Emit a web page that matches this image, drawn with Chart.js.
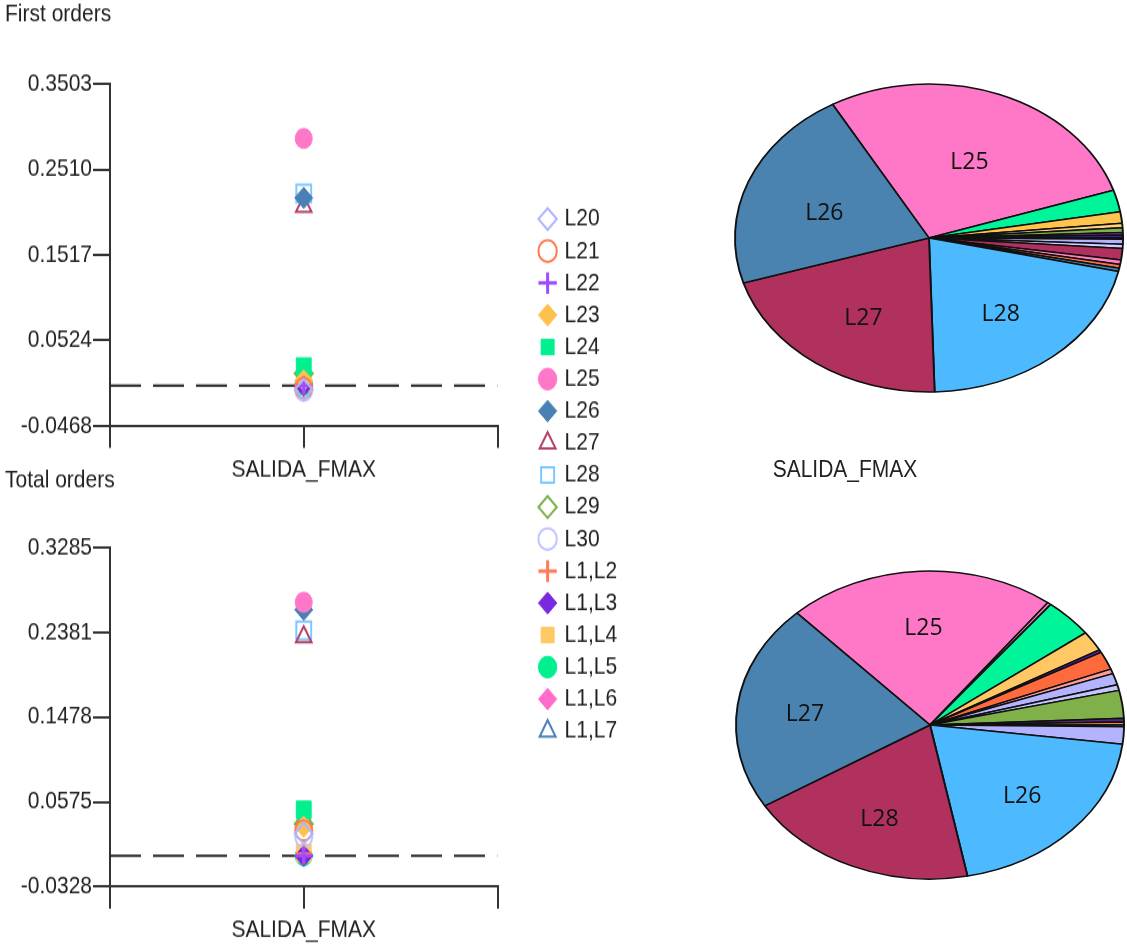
<!DOCTYPE html>
<html>
<head>
<meta charset="utf-8">
<title>SALIDA_FMAX sensitivity</title>
<script src="https://cdn.jsdelivr.net/npm/chart.js@4.4.1/dist/chart.umd.min.js"></script>
<style>
  html, body { margin: 0; padding: 0; background: #fff; }
  body { width: 1127px; height: 949px; position: relative; overflow: hidden; }
  /* the left half of the original figure is stretched vertically */
  #left { position: absolute; left: 0; top: 0; width: 720px; height: 810px; transform: scaleY(1.18); transform-origin: 0 0; }
  canvas { position: absolute; }
  .note { position: absolute; font: 21px "Liberation Sans", Arial, sans-serif; color: #222; line-height: 25px; white-space: nowrap; text-align: center; }
</style>
</head>
<body>
<div id="left">
  <canvas id="first" width="505" height="420" style="left:5px; top:0px"></canvas>
  <canvas id="total" width="505" height="420" style="left:5px; top:395px"></canvas>
  <canvas id="legend" width="240" height="500" style="left:535px; top:169px"></canvas>
  <div class="note" style="left:745px; top:384px; width:200px">SALIDA_FMAX</div>
</div>
<canvas id="pieFirst" width="420" height="330" style="left:719px; top:73px"></canvas>
<canvas id="pieTotal" width="420" height="330" style="left:720px; top:560px"></canvas>

<script>
const xCategory = 'SALIDA_FMAX';

const seriesNames = ['L20', 'L21', 'L22', 'L23', 'L24', 'L25', 'L26', 'L27', 'L28', 'L29', 'L30',
  'L1,L2', 'L1,L3', 'L1,L4', 'L1,L5', 'L1,L6', 'L1,L7'];

// first order / total order indices, one value per series
const firstOrders = [-0.005, -0.003, 0.0, 0.006, 0.022, 0.287, 0.218, 0.208, 0.223, 0.014, -0.006,
  0.001, 0.0, 0.004, 0.0, 0.002, 0.010];
const totalOrders = [0.024, 0.027, 0.0, 0.031, 0.049, 0.270, 0.262, 0.233, 0.240, 0.034, 0.020,
  0.002, 0.0, 0.003, 0.0, 0.001, 0.040];

const yTicksFirst = [-0.0468, 0.0524, 0.1517, 0.2510, 0.3503];
const yTicksTotal = [-0.0328, 0.0575, 0.1478, 0.2381, 0.3285];

// pie shares (percent), clockwise from the start angle
const pieFirstLabels = ['L25', 'L24', 'L23', 'L1,L4', 'L29', 'L22', 'L1,L3', 'L1,L2', 'L20', 'L30',
  'L1,L5', 'L1,L6', 'L21', 'L1,L7', 'L28', 'L27', 'L26'];
const pieFirstValues = [28.2, 2.3, 1.2, 0.45, 0.5, 0.25, 0.25, 0.2, 0.5, 0.45,
  1.2, 0.45, 0.4, 0.35, 21.0, 20.7, 21.4];

const pieTotalLabels = ['L25', 'L1,L6', 'L24', 'L23', 'L1,L3', 'L21', 'L1,L2', 'L20', 'L30', 'L29',
  'L22', 'L1,L4', 'L1,L5', 'L1,L7', 'L26', 'L28', 'L27'];
const pieTotalValues = [22.4, 0.3, 4.1, 2.1, 0.3, 1.9, 0.5, 1.2, 0.6, 2.9,
  0.4, 0.3, 0.2, 1.8, 19.9, 19.3, 21.75];

const pieNamed = ['L25', 'L26', 'L27', 'L28'];

// styles
const markerShapes = ['rectRot', 'circle', 'cross', 'rectRot', 'rect', 'circle', 'rectRot', 'triangle', 'rect',
  'rectRot', 'circle', 'cross', 'rectRot', 'rect', 'circle', 'rectRot', 'triangle'];
const markerColors = ['#b0b4ff', '#ff7a50', '#9b4dff', '#ffc14d', '#00f090', '#ff77c8', '#4a80b4', '#b4406a', '#7cc8ff',
  '#7fb04a', '#c0c4ff', '#ff7a5a', '#7a28e0', '#ffc864', '#00f090', '#ff6ccc', '#4a80b4'];
const markerFilled = [false, false, false, true, true, true, true, false, false,
  false, false, false, true, true, true, true, false];
const shapeRadius = { circle: 8.5, rect: 10.5, rectRot: 9, triangle: 9, cross: 8 };

const pieFirstColors = ['#ff78c8', '#00f59a', '#ffc44d', '#ffd27a', '#7fb04a', '#8a3ffc', '#5a1fb0', '#ff6a3d', '#b3b3ff', '#cfd0ff',
  '#b0305e', '#ff80c0', '#ff7043', '#4682b4', '#4dbaff', '#b0305e', '#4a82b0'];
const pieTotalColors = ['#ff78c8', '#ff80c8', '#00f59a', '#ffc864', '#5a1fb0', '#ff6a3d', '#ff9a9a', '#b3b3ff', '#c4c4ff', '#7fb04a',
  '#4b2a80', '#ff8040', '#00c080', '#b3b3ff', '#4dbaff', '#b0305e', '#4a82b0'];

const pieAspect = 1.26;
const pieRadius = 154;

Chart.defaults.font.family = '"Liberation Sans", Arial, sans-serif';
Chart.defaults.color = '#222';

const axisColor = '#333';
const textFont = { size: 21 };

function markerDataset(name, i, data) {
  const color = markerColors[i];
  const filled = markerFilled[i];
  return {
    label: name,
    data,
    pointStyle: markerShapes[i],
    pointRadius: shapeRadius[markerShapes[i]],
    backgroundColor: filled ? color : 'rgba(0,0,0,0)',
    borderColor: color,
    borderWidth: markerShapes[i] === 'cross' ? 3 : (filled ? 1 : 2),
  };
}

function makeScatter(id, title, values, yTicks, geo) {
  const datasets = seriesNames.map((name, i) => markerDataset(name, i, [{ x: 1, y: values[i] }]));
  datasets.push({
    type: 'line',
    label: 'zero',
    data: [{ x: 0, y: 0 }, { x: 2, y: 0 }],
    borderColor: '#222',
    borderWidth: 2,
    borderDash: [31, 12],
    pointRadius: 0,
    order: 1,
  });

  return new Chart(document.getElementById(id), {
    type: 'scatter',
    data: { datasets },
    options: {
      responsive: false,
      animation: false,
      events: [],
      layout: { padding: { top: 0, right: 3, bottom: 0, left: 0 } },
      plugins: {
        legend: { display: false },
        tooltip: { enabled: false },
        title: {
          display: true,
          text: title,
          align: 'start',
          font: { size: 21, weight: 'normal' },
          color: '#222',
          padding: { top: 0, bottom: geo.titleGap },
        },
      },
      scales: {
        x: {
          type: 'linear',
          min: 0,
          max: 2,
          afterBuildTicks: (scale) => { scale.ticks = [0, 1, 2].map((v) => ({ value: v })); },
          afterFit: (scale) => { scale.height = geo.xAxisHeight; },
          ticks: {
            callback: (v) => (v === 1 ? xCategory : ''),
            autoSkip: false,
            maxRotation: 0,
            padding: 5.8,
            font: textFont,
            color: '#222',
          },
          grid: { drawOnChartArea: false, tickLength: 18.6, color: axisColor, lineWidth: 2 },
          border: { color: axisColor, width: 2 },
        },
        y: {
          min: yTicks[0],
          max: yTicks[yTicks.length - 1],
          afterBuildTicks: (scale) => { scale.ticks = yTicks.map((v) => ({ value: v })); },
          afterFit: (scale) => { scale.width = 105; },
          ticks: {
            callback: (v) => Number(v).toFixed(4),
            padding: 1,
            font: textFont,
            color: '#222',
          },
          grid: { drawOnChartArea: false, tickLength: 17, color: axisColor, lineWidth: 2 },
          border: { color: axisColor, width: 2 },
        },
      },
    },
  });
}

makeScatter('first', 'First orders', firstOrders, yTicksFirst, { titleGap: 46, xAxisHeight: 59.2 });
makeScatter('total', 'Total orders', totalOrders, yTicksTotal, { titleGap: 43.6, xAxisHeight: 63.6 });

// shared legend for both scatter plots
new Chart(document.getElementById('legend'), {
  type: 'scatter',
  data: { datasets: seriesNames.map((name, i) => markerDataset(name, i, [])) },
  options: {
    responsive: false,
    animation: false,
    events: [],
    scales: { x: { display: false }, y: { display: false } },
    plugins: {
      tooltip: { enabled: false },
      legend: {
        position: 'left',
        align: 'start',
        labels: {
          usePointStyle: true,
          boxWidth: 13,
          boxHeight: 13,
          padding: 6.12,
          font: textFont,
          color: '#222',
        },
      },
    },
  },
});

// draws the pie squeezed into an ellipse and writes the big slice names
const pieStretch = {
  id: 'pieStretch',
  beforeDatasetsDraw(chart) {
    const arc = chart.getDatasetMeta(0).data[0];
    const { ctx } = chart;
    ctx.save();
    ctx.translate(arc.x, 0);
    ctx.scale(pieAspect, 1);
    ctx.translate(-arc.x, 0);
  },
  afterDatasetsDraw(chart, args, opts) {
    const { ctx } = chart;
    ctx.restore();
    ctx.save();
    ctx.font = '23px "Open Sans", "Noto Sans", sans-serif';
    ctx.fillStyle = '#111';
    ctx.textAlign = 'center';
    ctx.textBaseline = 'middle';
    chart.getDatasetMeta(0).data.forEach((arc, i) => {
      const name = chart.data.labels[i];
      if (!pieNamed.includes(name)) return;
      const { x, y, startAngle, endAngle, outerRadius } = arc.getProps(['x', 'y', 'startAngle', 'endAngle', 'outerRadius'], true);
      const mid = (startAngle + endAngle) / 2;
      const r = outerRadius * opts.labelFactor;
      ctx.fillText(name, x + Math.cos(mid) * r * pieAspect, y + Math.sin(mid) * r + opts.dy);
    });
    ctx.restore();
  },
};

function makePie(id, labels, values, colors, rotation, labelFactor, dy) {
  return new Chart(document.getElementById(id), {
    type: 'pie',
    data: {
      labels,
      datasets: [{ data: values, backgroundColor: colors, borderColor: '#111', borderWidth: 1.5 }],
    },
    options: {
      responsive: false,
      animation: false,
      events: [],
      rotation,
      radius: pieRadius,
      plugins: {
        legend: { display: false },
        tooltip: { enabled: false },
        pieStretch: { labelFactor, dy },
      },
    },
    plugins: [pieStretch],
  });
}

makePie('pieFirst', pieFirstLabels, pieFirstValues, pieFirstColors, 330.2, 0.58, 8);
makePie('pieTotal', pieTotalLabels, pieTotalValues, pieTotalColors, 316.7, 0.65, 3);
</script>
</body>
</html>
